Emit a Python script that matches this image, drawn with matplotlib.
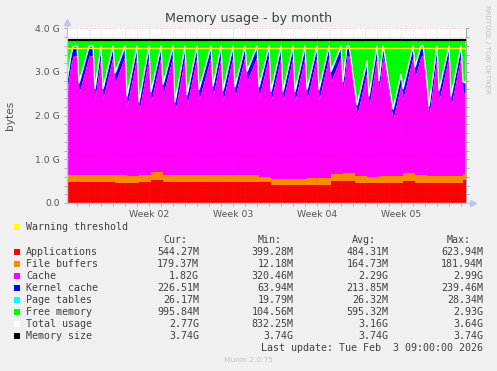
import numpy as np
import matplotlib
matplotlib.use("Agg")
import matplotlib.pyplot as plt
from matplotlib.patches import Rectangle

# ---------------- data (GiB) ----------------
# total usage, sampled every 4 hours (1/6 day)
total_usage = [
    2.80, 3.10, 3.40, 3.58, 3.60, 3.60, 2.75, 2.92, 3.09, 3.26,
    3.43, 3.60, 3.60, 3.60, 2.62, 2.95, 3.27, 3.60, 2.62, 2.82,
    3.01, 3.21, 3.40, 3.60, 2.98, 3.10, 3.23, 3.35, 3.48, 3.60,
    2.45, 2.68, 2.91, 3.14, 3.37, 3.60, 2.32, 2.58, 2.83, 3.09,
    3.34, 3.60, 2.55, 2.76, 2.97, 3.18, 3.39, 3.60, 2.72, 2.90,
    3.07, 3.25, 3.42, 3.60, 2.32, 2.58, 2.83, 3.09, 3.34, 3.60,
    2.48, 2.70, 2.93, 3.15, 3.38, 3.60, 2.60, 2.77, 2.93, 3.10,
    3.27, 3.43, 3.60, 2.68, 2.91, 3.14, 3.37, 3.60, 2.58, 2.78,
    2.99, 3.19, 3.40, 3.60, 2.66, 2.85, 3.04, 3.22, 3.41, 3.60,
    3.02, 3.14, 3.25, 3.37, 3.48, 3.60, 2.66, 2.85, 3.04, 3.22,
    3.41, 3.60, 2.56, 2.77, 2.98, 3.18, 3.39, 3.60, 2.56, 2.77,
    2.98, 3.18, 3.39, 3.60, 2.56, 2.77, 2.98, 3.18, 3.39, 3.60,
    2.60, 2.80, 3.00, 3.20, 3.40, 3.60, 2.60, 2.80, 3.00, 3.20,
    3.40, 3.60, 3.02, 3.14, 3.25, 3.37, 3.48, 3.60, 2.78, 3.19,
    3.60, 3.60, 3.30, 2.95, 2.60, 2.25, 2.45, 2.65, 2.85, 3.05,
    3.25, 2.45, 2.74, 3.03, 3.31, 3.60, 2.80, 3.20, 3.60, 3.35,
    3.05, 2.75, 2.45, 2.15, 2.35, 2.55, 2.75, 2.95, 2.62, 2.82,
    3.01, 3.21, 3.40, 3.60, 3.12, 3.28, 3.44, 3.60, 3.60, 3.20,
    2.75, 2.22, 2.57, 2.91, 3.26, 3.60, 2.58, 2.78, 2.99, 3.19,
    3.40, 3.60, 2.45, 2.68, 2.91, 3.14, 3.37, 3.60, 2.78, 2.77,
]
# daily values
applications = [0.47, 0.47, 0.47, 0.47, 0.46, 0.45, 0.47, 0.52, 0.47, 0.47,
                0.47, 0.47, 0.47, 0.47, 0.47, 0.47, 0.47, 0.41, 0.41, 0.41,
                0.41, 0.41, 0.50, 0.51, 0.45, 0.45, 0.45, 0.45, 0.50, 0.45,
                0.45, 0.45, 0.45, 0.53]
file_buffers = [0.17, 0.16, 0.17, 0.17, 0.17, 0.17, 0.17, 0.20, 0.18, 0.18,
                0.18, 0.18, 0.18, 0.18, 0.17, 0.17, 0.13, 0.13, 0.14, 0.15,
                0.16, 0.16, 0.17, 0.17, 0.16, 0.15, 0.17, 0.17, 0.18, 0.18,
                0.17, 0.17, 0.16, 0.14]
kernel_cache = [0.20, 0.21, 0.21, 0.21, 0.21, 0.21, 0.21, 0.21, 0.21, 0.21,
                0.21, 0.21, 0.21, 0.21, 0.21, 0.21, 0.21, 0.21, 0.21, 0.21,
                0.21, 0.21, 0.21, 0.21, 0.21, 0.22, 0.21, 0.21, 0.21, 0.21,
                0.21, 0.21, 0.21, 0.22]
page_tables = [0.026, 0.026, 0.026, 0.026, 0.026, 0.026, 0.026, 0.026, 0.026, 0.026,
               0.026, 0.026, 0.026, 0.026, 0.026, 0.026, 0.026, 0.026, 0.026, 0.026,
               0.026, 0.026, 0.026, 0.026, 0.026, 0.026, 0.026, 0.026, 0.026, 0.026,
               0.026, 0.026, 0.026, 0.026]
memory_size = 3.74
warning_threshold = 3.56

week_labels = ["Week 02", "Week 03", "Week 04", "Week 05"]
week_positions = [6.83, 13.83, 20.83, 27.83]   # days from left edge
y_ticks = [0, 1, 2, 3, 4]
y_ticklabels = ["0.0", "1.0 G", "2.0 G", "3.0 G", "4.0 G"]

legend_names = ["Applications", "File buffers", "Cache", "Kernel cache",
                "Page tables", "Free memory", "Total usage", "Memory size"]
legend_colors = ["#FF0000", "#FF8C00", "#FF00FF", "#0000FF",
                 "#00FFFF", "#00FF00", "#FFFFFF", "#000000"]
cur_vals = ["544.27M", "179.37M", "1.82G", "226.51M", "26.17M", "995.84M", "2.77G", "3.74G"]
min_vals = ["399.28M", "12.18M", "320.46M", "63.94M", "19.79M", "104.56M", "832.25M", "3.74G"]
avg_vals = ["484.31M", "164.73M", "2.29G", "213.85M", "26.32M", "595.32M", "3.16G", "3.74G"]
max_vals = ["623.94M", "181.94M", "2.99G", "239.46M", "28.34M", "2.93G", "3.64G", "3.74G"]

# ---------------- figure ----------------
W, H = 497, 371
fig = plt.figure(figsize=(W / 100, H / 100), dpi=100, facecolor="#F0F0F0")
L, R, T, B = 67, 466, 28.3, 203
ax = fig.add_axes([L / W, 1 - B / H, (R - L) / W, (B - T) / H])
ax.set_facecolor("white")

tot = np.array(total_usage)
t = np.arange(len(tot)) / 6.0
day_idx = np.minimum(np.arange(len(tot)) // 6, len(kernel_cache) - 1)
kern = np.array(kernel_cache)[day_idx]
pt = np.array(page_tables)[day_idx]

days = np.arange(len(applications) + 1, dtype=float)
days[-1] = 33.25
apps = np.append(applications, applications[-1])
bufs = np.append(file_buffers, file_buffers[-1])

ax.fill_between(t, tot, memory_size, color="#00FF00", lw=0, zorder=1)
ax.fill_between(t, tot - pt, tot, color="#00FFFF", lw=0, zorder=2)
ax.fill_between(t, tot - pt - kern, tot - pt, color="#0000FF", lw=0, zorder=3)
ax.fill_between(t, 0, tot - pt - kern, color="#FF00FF", lw=0, zorder=4)
ax.fill_between(days, 0, apps + bufs, step="post", color="#FF8C00", lw=0, zorder=5)
ax.fill_between(days, 0, apps, step="post", color="#FF0000", lw=0, zorder=6)
ax.plot(t, tot, color="white", lw=0.9, zorder=7)
ax.axhline(memory_size, color="black", lw=1.6, zorder=8)
ax.axhline(warning_threshold, color="#FFFF00", lw=1.0, zorder=9)

ax.set_xlim(0, 33.25)
ax.set_ylim(0, 4.0)

# grid
for d in np.arange(0.83, 33.25, 1.0):
    major = any(abs(d - w) < 0.05 for w in week_positions)
    ax.axvline(d, color=(0.9, 0.3, 0.3, 0.5) if major else (0.45, 0.45, 0.45, 0.35),
               lw=0.6, ls=(0, (1, 2)), zorder=10)
for yv in np.arange(0.2, 4.01, 0.2):
    major = abs(yv - round(yv)) < 1e-6
    ax.axhline(yv, color=(0.9, 0.3, 0.3, 0.5) if major else (0.45, 0.45, 0.45, 0.35),
               lw=0.6, ls=(0, (1, 2)), zorder=10)

for s in ["top", "left", "bottom"]:
    ax.spines[s].set_visible(False)
ax.spines["right"].set_color("#A8A8A8")
ax.spines["right"].set_linewidth(0.8)

ax.set_yticks(y_ticks)
ax.set_yticklabels(y_ticklabels)
ax.set_yticks(np.arange(0, 4.01, 0.2), minor=True)
ax.set_xticks(week_positions)
ax.set_xticklabels(week_labels)
ax.set_xticks(np.arange(0.83, 33.25, 1.0), minor=True)
ax.tick_params(axis="both", which="both", length=2, width=0.6, color="#A0A0A0",
               labelsize=6.7, labelcolor="#555555", pad=3)
ax.tick_params(axis="y", which="both", right=True)

# axes with arrows
axc = "#C0C4F0"
ax.plot([0, 0], [0, 1.033], transform=ax.transAxes, color=axc, lw=1, clip_on=False, zorder=11)
ax.plot([0], [1.036], transform=ax.transAxes, marker="^", ms=4, color=axc, clip_on=False, zorder=11)
ax.plot([0, 1.015], [0, 0], transform=ax.transAxes, color=axc, lw=1, clip_on=False, zorder=11)
ax.plot([1.0175], [0], transform=ax.transAxes, marker=">", ms=4, color=axc, clip_on=False, zorder=11)

def fx(x):
    return x / W

def fy(y):
    return 1 - y / H

fig.text(fx(248.5), fy(18.5), "Memory usage - by month", ha="center", va="center",
         fontsize=9.1, color="#404040")
fig.text(fx(10), fy(115), "bytes", rotation=90, ha="center", va="center",
         fontsize=7.6, color="#555555")
fig.text(fx(486.5), fy(5), "RRDTOOL / TOBI OETIKER", rotation=270, ha="center", va="top",
         fontsize=5.0, color="#C0C0C0")

mono = "DejaVu Sans Mono"
tc = "#404040"
fs = 7.2
# warning threshold row
fig.add_artist(Rectangle((fx(14), fy(230.3)), 6 / W, 6 / H, transform=fig.transFigure,
                         facecolor="#FFFF00", edgecolor="none"))
fig.text(fx(26), fy(227.3), "Warning threshold", family=mono, fontsize=fs, color=tc,
         ha="left", va="center")
# headers
for xr, h in zip([187, 281.7, 376, 470.7], ["Cur:", "Min:", "Avg:", "Max:"]):
    fig.text(fx(xr), fy(240), h, family=mono, fontsize=fs, color=tc, ha="right", va="center")
for k, name in enumerate(legend_names):
    yc = 251.7 + 12 * k
    fig.add_artist(Rectangle((fx(14), fy(yc + 3)), 6 / W, 6 / H, transform=fig.transFigure,
                             facecolor=legend_colors[k], edgecolor="none"))
    fig.text(fx(26), fy(yc), name, family=mono, fontsize=fs, color=tc, ha="left", va="center")
    for xr, vals in zip([199, 293.3, 388.7, 483], [cur_vals, min_vals, avg_vals, max_vals]):
        fig.text(fx(xr), fy(yc), vals[k], family=mono, fontsize=fs, color=tc,
                 ha="right", va="center")
fig.text(fx(483), fy(347.7), "Last update: Tue Feb  3 09:00:00 2026", family=mono,
         fontsize=fs, color=tc, ha="right", va="center")
fig.text(fx(248), fy(360.3), "Munin 2.0.75", fontsize=5.4, color="#C4C4C4",
         ha="center", va="center")

fig.savefig("out.png", dpi=100, facecolor=fig.get_facecolor())
